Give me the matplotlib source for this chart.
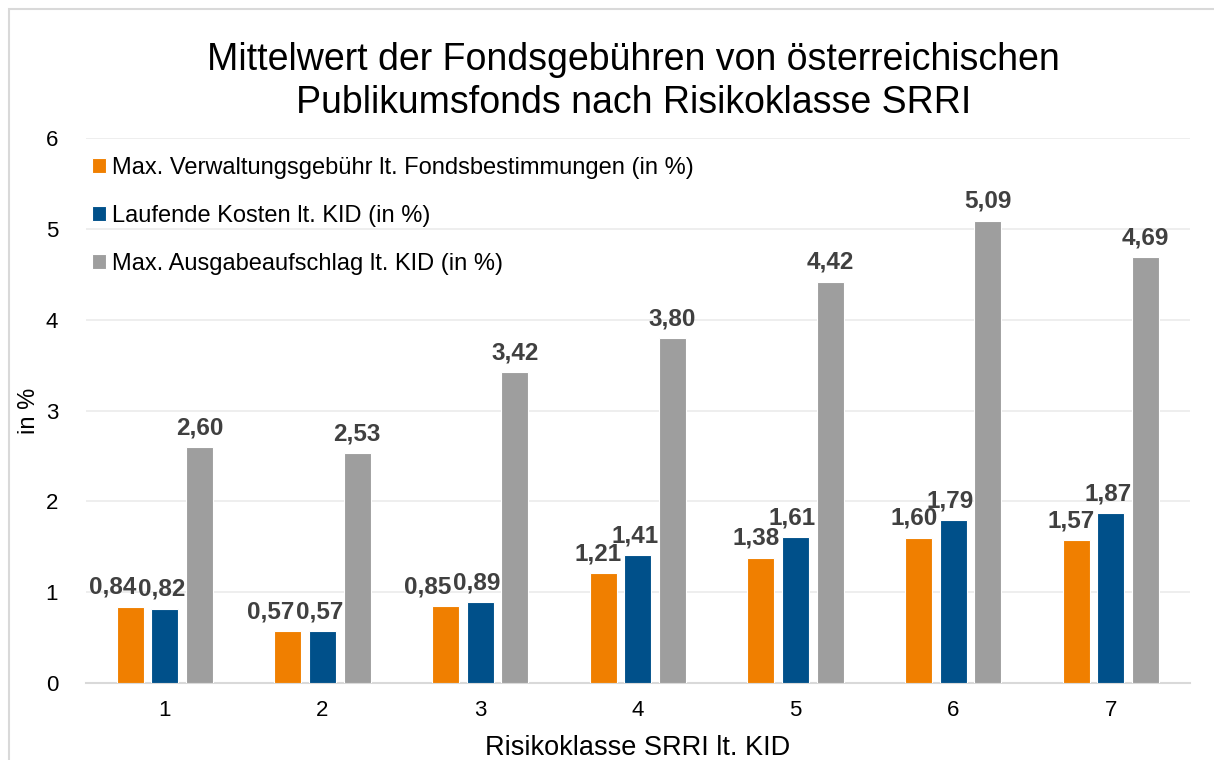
import numpy as np
import matplotlib.pyplot as plt
from matplotlib.patches import Rectangle

plt.rcParams['font.family'] = ['Liberation Sans', 'DejaVu Sans']

classes = ['1', '2', '3', '4', '5', '6', '7']
verwaltung = [0.84, 0.57, 0.85, 1.21, 1.38, 1.60, 1.57]
laufend = [0.82, 0.57, 0.89, 1.41, 1.61, 1.79, 1.87]
ausgabe = [2.60, 2.53, 3.42, 3.80, 4.42, 5.09, 4.69]
series_names = ['Max. Verwaltungsgebühr lt. Fondsbestimmungen (in %)',
                'Laufende Kosten lt. KID (in %)',
                'Max. Ausgabeaufschlag lt. KID (in %)']
colors = ['#F07F00', '#00508A', '#9E9E9E']

fig = plt.figure(figsize=(12.14, 7.6), dpi=100)
ax = fig.add_axes([0.0708, 0.1013, 0.9092, 0.7171])

# light frame around the whole chart
fig.patches.append(Rectangle((9 / 1214, -0.01), 1.02, 1 - 9 / 760 + 0.01,
                             transform=fig.transFigure, fill=False,
                             ec='#D9D9D9', lw=1.5))

x = np.arange(len(classes))
w = 0.17
offsets = [-0.22, 0.0, 0.22]
all_vals = [verwaltung, laufend, ausgabe]
for i, (vals, off, c, name) in enumerate(zip(all_vals, offsets, colors, series_names)):
    bars = ax.bar(x + off, vals, w, color=c, ec='white', lw=0.8, label=name, zorder=3)
    for j, (b, v) in enumerate(zip(bars, vals)):
        # nudge orange/blue labels apart so they don't run into each other
        shift = 0
        if i == 0:
            shift = -0.11 if abs(verwaltung[j] - laufend[j]) < 0.1 else -0.03
        elif i == 1:
            shift = -0.02
        ax.text(b.get_x() + b.get_width() / 2 + shift, v + 0.085, f'{v:.2f}'.replace('.', ','),
                ha='center', va='bottom', fontsize=17.5, fontweight='bold', color='#404040')

ax.set_ylim(0, 6)
ax.set_xlim(-0.5, 6.5)
ax.set_yticks(range(7))
ax.set_xticks(x)
ax.set_xticklabels(classes)
ax.tick_params(axis='both', length=0, labelsize=16, colors='black')
ax.tick_params(axis='y', pad=20)
ax.tick_params(axis='x', pad=12)
ax.yaxis.grid(True, color='#EBEBEB', lw=1.2, zorder=0)
for s in ['top', 'right', 'left']:
    ax.spines[s].set_visible(False)
ax.spines['bottom'].set_color('#D9D9D9')
ax.spines['bottom'].set_linewidth(1.5)

ax.set_ylabel('in %', fontsize=17, labelpad=4)
ax.set_xlabel('Risikoklasse SRRI lt. KID', fontsize=19.5, labelpad=10)

leg = ax.legend(loc='upper left', bbox_to_anchor=(-0.003, 0.982), frameon=False,
                fontsize=17, handlelength=0.6, handleheight=0.6, handletextpad=0.25,
                labelspacing=1.1, borderaxespad=0)

fig.text(0.522, 0.893, 'Mittelwert der Fondsgebühren von österreichischen\nPublikumsfonds nach Risikoklasse SRRI',
         ha='center', va='center', fontsize=27, linespacing=1.25)

fig.savefig('out.png', dpi=100)
